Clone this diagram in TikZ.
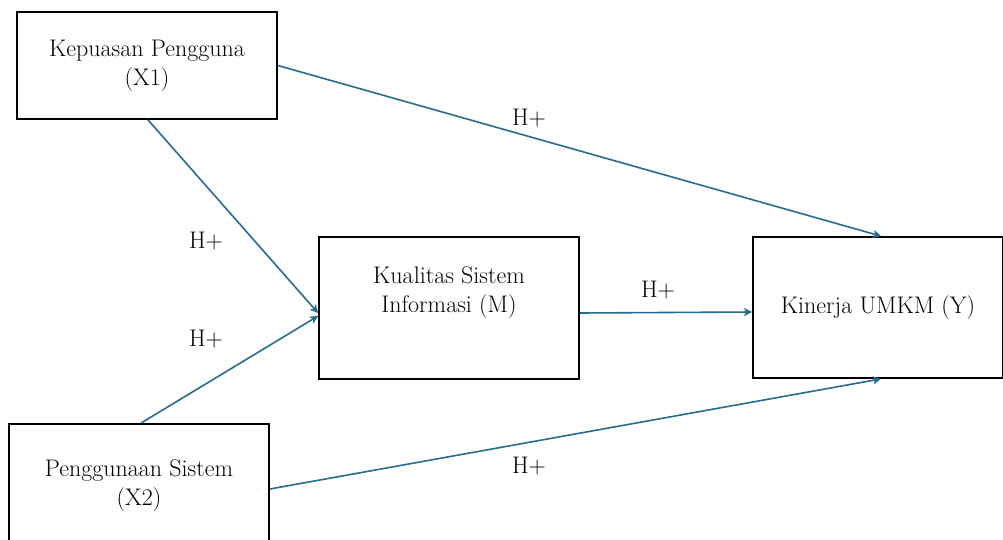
\documentclass[tikz,border=0pt]{standalone}
\usetikzlibrary{calc,arrows.meta}
\definecolor{arrowblue}{RGB}{38,108,142}
\tikzset{
  box/.style={draw=black, line width=1.8pt, rectangle, inner sep=0pt, align=center,
    font=\fontsize{24}{29}\selectfont},
  link/.style={draw=arrowblue, line width=1.6pt, -{Stealth[length=8pt,width=8pt,inset=2pt]}},
  lbl/.style={font=\fontsize{24}{26}\selectfont, inner sep=0pt}
}
\begin{document}
\begin{tikzpicture}[x=1pt,y=-1pt]
\useasboundingbox (0,0) rectangle (1003,540);
\node[box, minimum width=260pt, minimum height=107pt] (X1) at (147,65.5) {Kepuasan Pengguna\\(X1)};
\node[box, minimum width=260pt, minimum height=142pt] (M) at (449,308) {Kualitas Sistem\\Informasi (M)\\[8pt]};
\node[box, minimum width=250pt, minimum height=141pt] (Y) at (878,307.5) {Kinerja UMKM (Y)};
\node[box, minimum width=260pt, minimum height=124pt] (X2) at (139,486) {Penggunaan Sistem\\(X2)};

\draw[link] ($(X1.east)+(0,0)$) -- ($(Y.north)+(3,0)$);
\draw[link] ($(X1.south)+(1,0)$) -- ($(M.west)+(0,5)$);
\draw[link] ($(X2.north)+(2,0)$) -- ($(M.west)+(0,8)$);
\draw[link] ($(M.east)+(0,5)$) -- ($(Y.west)+(0,4.5)$);
\draw[link] ($(X2.east)+(0,3)$) -- ($(Y.south)+(3,0)$);

\node[lbl] (h1) at (529,118) {H+};
\node[lbl] (h2) at (206,241) {H+};
\node[lbl] (h3) at (206,339) {H+};
\node[lbl] (h4) at (658,290) {H+};
\node[lbl] (h5) at (529,466) {H+};
\end{tikzpicture}
\end{document}
